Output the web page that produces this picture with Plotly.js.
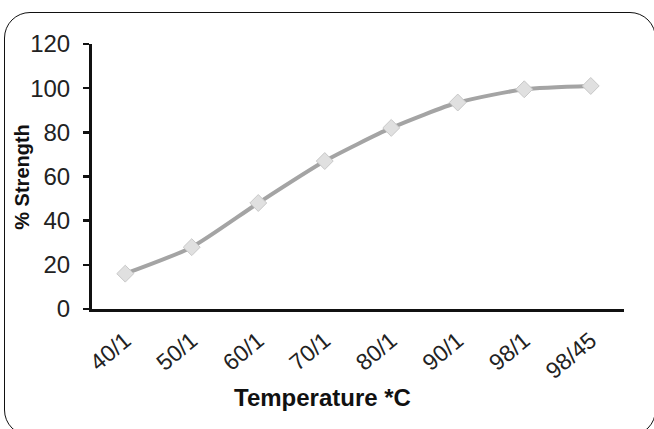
<!DOCTYPE html>
<html><head><meta charset="utf-8">
<script src="https://cdn.plot.ly/plotly-3.0.1.min.js"></script>
<style>
html,body{margin:0;padding:0;background:#fff;}
#frame{position:absolute;left:4px;top:12px;width:652px;height:424px;border:1.5px solid #111;border-radius:26px;box-sizing:border-box;}
#chart{position:absolute;left:0;top:0;width:654px;height:429px;}
</style></head>
<body>
<div id="frame"></div>
<div id="chart"></div>
<script>
const categories = ["40/1","50/1","60/1","70/1","80/1","90/1","98/1","98/45"];
const strength = [16, 28, 48, 67, 82, 93.5, 99.5, 101];
const yTicks = [0,20,40,60,80,100,120];

const trace = {
  x: categories, y: strength, type: 'scatter', mode: 'lines+markers',
  line: {color: '#a4a4a4', width: 4, shape: 'spline', smoothing: 0.6},
  marker: {symbol: 'diamond', size: 13, color: '#e0e0e0', line: {color: '#c8c8c8', width: 1}},
  hoverinfo: 'none'
};
const layout = {
  width: 654, height: 429,
  margin: {l: 92, r: 30, t: 44, b: 120},
  paper_bgcolor: 'rgba(0,0,0,0)', plot_bgcolor: 'rgba(0,0,0,0)',
  showlegend: false,
  font: {family: 'Liberation Sans, Arial, sans-serif', color: '#111'},
  xaxis: {
    type: 'category', range: [-0.5, 7.5], showgrid: false, zeroline: false,
    showline: true, linecolor: '#111', linewidth: 3,
    ticks: 'outside', ticklen: 6, tickcolor: 'rgba(0,0,0,0)',
    tickangle: -40, tickfont: {size: 23, color: '#222'}
  },
  yaxis: {
    range: [0, 120], tickvals: yTicks, showgrid: false, zeroline: false,
    showline: true, linecolor: '#111', linewidth: 3, ticks: 'outside', ticklen: 6,
    tickwidth: 2.5, tickcolor: '#111', tickfont: {size: 24, color: '#222'},
    ticklabelstandoff: 8
  },
  annotations: [{
    text: '<b>Temperature *C</b>', xref: 'paper', yref: 'paper', x: 0.434, y: -0.335,
    xanchor: 'center', yanchor: 'middle', showarrow: false, font: {size: 24, color: '#111'}
  }, {
    text: '<b>% Strength</b>', xref: 'paper', yref: 'paper', x: -0.133, y: 0.5,
    xanchor: 'center', yanchor: 'middle', textangle: -90, showarrow: false,
    font: {size: 20, color: '#111'}
  }],
  shapes: [{
    type: 'line', xref: 'paper', x0: 0, x1: 0, yref: 'y', ysizemode: 'pixel', yanchor: 0,
    y0: 0, y1: -7, line: {color: '#111', width: 3}
  }]
};
Plotly.newPlot('chart', [trace], layout, {staticPlot: true, displayModeBar: false});
</script>
</body></html>
